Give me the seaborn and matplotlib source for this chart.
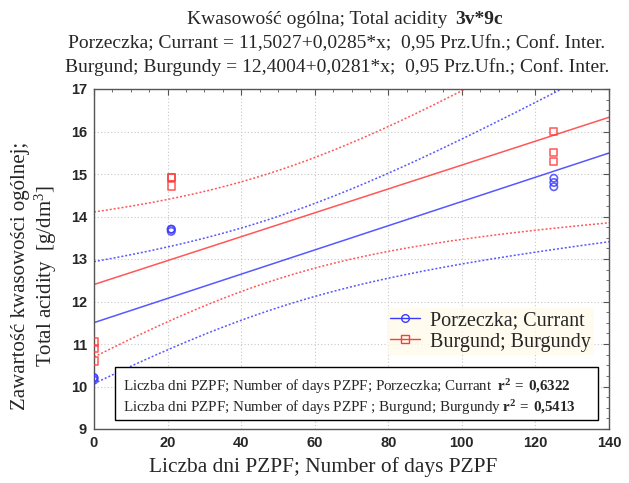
import numpy as np
import pandas as pd
import matplotlib
matplotlib.use("Agg")
import matplotlib.pyplot as plt
import seaborn as sns
from matplotlib.ticker import MultipleLocator
from matplotlib.lines import Line2D
from matplotlib.patches import Rectangle

# ---- data ----
days = [0, 0, 0, 21, 21, 21, 125, 125, 125]
currant = [10.15, 10.20, 10.21, 13.65, 13.70, 13.70, 14.70, 14.80, 14.90]
burgundy = [10.60, 10.90, 11.05, 14.72, 14.92, 14.92, 15.30, 15.50, 16.00]
series_names = ["Porzeczka; Currant", "Burgund; Burgundy"]
title1 = "Kwasowość ogólna; Total acidity"
title1b = "3v*9c"
title2 = "Porzeczka; Currant = 11,5027+0,0285*x;  0,95 Prz.Ufn.; Conf. Inter."
title3 = "Burgund; Burgundy = 12,4004+0,0281*x;  0,95 Prz.Ufn.; Conf. Inter."
r2_lines = [
    r"Liczba dni PZPF; Number of days PZPF; Porzeczka; Currant  $\mathbf{r^2\:=\:0{,}6322}$",
    r"Liczba dni PZPF; Number of days PZPF ; Burgund; Burgundy $\mathbf{r^2\:=\:0{,}5413}$",
]
xlabel = "Liczba dni PZPF; Number of days PZPF"
ylabel = "Zawartość kwasowości ogólnej;\nTotal acidity  [g/dm$^3$]"

df = pd.DataFrame({"days": days * 2,
                   "val": currant + burgundy,
                   "series": [series_names[0]] * len(days) + [series_names[1]] * len(days)})

sns.set_style("white")
plt.rcParams["font.family"] = ["Liberation Serif", "DejaVu Serif"]
plt.rcParams["mathtext.fontset"] = "custom"
plt.rcParams["mathtext.rm"] = "Liberation Serif"
plt.rcParams["mathtext.bf"] = "Liberation Serif:bold"
plt.rcParams["mathtext.it"] = "Liberation Serif:italic"

fig = plt.figure(figsize=(6.29, 4.83), dpi=100)
ax = fig.add_axes([94 / 629, 1 - 429 / 483, (609 - 94) / 629, (429 - 89) / 483])
ax.set_xlim(0, 140)
ax.set_ylim(9, 17)

colors = ["#3a3aff", "#ff3a3a"]
markers = ["o", "s"]
xs = np.linspace(0, 140, 300)
for name, col, mk in zip(series_names, colors, markers):
    sub = df[df.series == name]
    sns.regplot(data=sub, x="days", y="val", ax=ax, ci=None, truncate=False,
                marker=mk,
                scatter_kws=dict(s=28, facecolors="none", edgecolors=col, linewidths=1.2, zorder=4),
                line_kws=dict(color=col, lw=1.1, alpha=0.85))
    # 95% confidence band of the regression line
    x = sub.days.values.astype(float)
    y = sub.val.values
    n = len(x)
    b, a = np.polyfit(x, y, 1)
    resid = y - (a + b * x)
    s = np.sqrt(np.sum(resid ** 2) / (n - 2))
    sxx = np.sum((x - x.mean()) ** 2)
    t = 2.3646
    half = t * s * np.sqrt(1 / n + (xs - x.mean()) ** 2 / sxx)
    fit = a + b * xs
    ax.plot(xs, fit + half, color=col, lw=1.1, ls=(0, (1.3, 1.3)), alpha=0.85)
    ax.plot(xs, fit - half, color=col, lw=1.1, ls=(0, (1.3, 1.3)), alpha=0.85)

ax.set_xlabel("")
ax.set_ylabel("")
ax.xaxis.set_major_locator(MultipleLocator(20))
ax.xaxis.set_minor_locator(MultipleLocator(5))
ax.yaxis.set_major_locator(MultipleLocator(1))
ax.yaxis.set_minor_locator(MultipleLocator(0.25))
ax.tick_params(which="both", direction="in", top=True, right=True, color="#555555")
ax.tick_params(which="major", length=4, width=0.8, labelsize=10.5, pad=5)
ax.tick_params(which="minor", length=2.5, width=0.6)
for lab in ax.get_xticklabels() + ax.get_yticklabels():
    lab.set_fontfamily(["Liberation Sans", "DejaVu Sans"])
    lab.set_fontweight("bold")
ax.grid(True, which="major", color="#c8c8c8", ls=(0, (1, 2)), lw=0.8)
for sp in ax.spines.values():
    sp.set_color("#555555")
    sp.set_linewidth(1.0)

handles = [Line2D([], [], color=c, marker=m, mfc="none", mec=c, ms=5.5, lw=1)
           for c, m in zip(colors, markers)]
leg = ax.legend(handles, series_names, loc="upper left", bbox_to_anchor=(0.568, 0.355),
                frameon=True, fontsize=14.5, handlelength=1.5, handletextpad=0.5,
                borderpad=0.15, labelspacing=0.1, borderaxespad=0)
leg.get_frame().set_facecolor("#fffbea")
leg.get_frame().set_edgecolor("none")

# r^2 box
ax.add_patch(Rectangle((0.041, 0.026), 0.938, 0.156, transform=ax.transAxes,
                       fc="white", ec="black", lw=1.0, zorder=6))
ax.text(0.056, 0.124, r2_lines[0], transform=ax.transAxes, fontsize=10.8,
        va="center", ha="left", zorder=7)
ax.text(0.056, 0.062, r2_lines[1], transform=ax.transAxes, fontsize=10.8,
        va="center", ha="left", zorder=7)

fig.text(447 / 629, 1 - 20 / 483, title1, ha="right", va="center", fontsize=14)
fig.text(455 / 629, 1 - 20 / 483, title1b, ha="left", va="center", fontsize=14, fontweight="bold")
fig.text(337 / 629, 1 - 44 / 483, title2, ha="center", va="center", fontsize=14)
fig.text(337 / 629, 1 - 67 / 483, title3, ha="center", va="center", fontsize=14)
fig.text(323 / 629, 1 - 467 / 483, xlabel, ha="center", va="center", fontsize=15.4)
fig.text(35 / 629, 1 - 276 / 483, ylabel, ha="center", va="center", rotation=90,
         fontsize=15, linespacing=1.1)

fig.savefig("out.png", dpi=100, facecolor="white")
